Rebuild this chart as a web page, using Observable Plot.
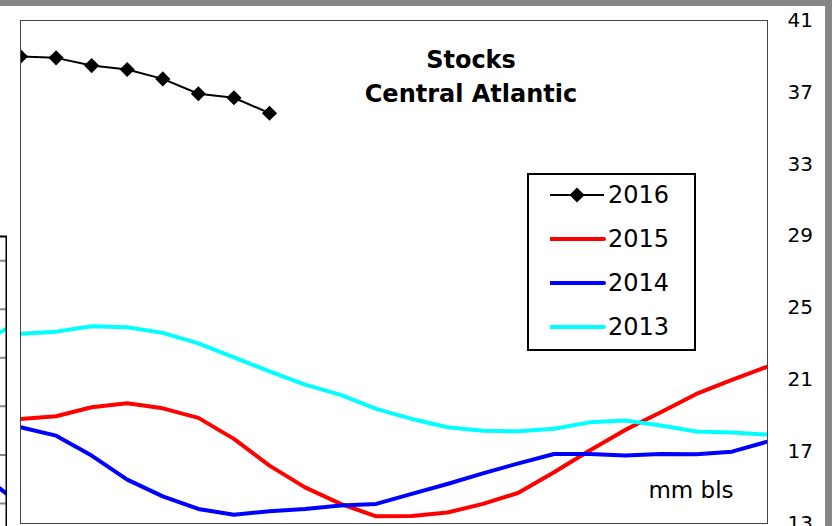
<!DOCTYPE html>
<html>
<head>
<meta charset="utf-8">
<script src="https://cdn.jsdelivr.net/npm/d3@7"></script>
<script src="https://cdn.jsdelivr.net/npm/@observablehq/plot@0.6"></script>
<style>
  body { margin: 0; background: #fff; }
  #wrap { position: relative; width: 832px; height: 526px; overflow: hidden; background: #fff; font-family: "DejaVu Sans", sans-serif; }
  #main { position: absolute; left: 0; top: 0; }
  #neighbor { position: absolute; left: 0; top: 0; width: 7px; height: 526px; overflow: hidden; }
  #neighbor > div { position: absolute; left: -93px; top: 0; }
  #legend { position: absolute; left: 527px; top: 173px; width: 169px; height: 178px; border: 2px solid #000; box-sizing: border-box; background: #fff; }
  .row { position: absolute; left: 0; height: 44px; width: 165px; }
  .row svg { position: absolute; left: 21px; top: 0; }
  .row span { position: absolute; left: 79px; top: 0; line-height: 44px; font-size: 24px; color: #000; }
  .band-top { position: absolute; left: 0; top: 0; width: 832px; height: 6px; background: #858585; }
  .band-right { position: absolute; left: 825px; top: 0; width: 7px; height: 526px; background: #858585; }
</style>
</head>
<body>
<div id="wrap">
  <div id="main"></div>
  <div id="neighbor"><div id="neighborPlot"></div></div>
  <div id="legend"></div>
  <div class="band-top"></div>
  <div class="band-right"></div>
</div>
<script>
// ---- Data ----
const titleLines = ["Stocks", "Central Atlantic"];
const unitLabel = "mm bls";
const yTicks = [13, 17, 21, 25, 29, 33, 37, 41];
const periods = [0,1,2,3,4,5,6,7,8,9,10,11,12,13,14,15,16,17,18,19,20,21];

const s2016 = [39.0, 38.92, 38.49, 38.27, 37.75, 36.92, 36.70, 35.84];
const s2015 = [18.82, 18.97, 19.47, 19.69, 19.41, 18.88, 17.71, 16.22, 15.01, 14.09, 13.40, 13.42, 13.61, 14.09, 14.71, 15.85, 17.06, 18.21, 19.19, 20.21, 20.99, 21.73];
const s2014 = [18.36, 17.89, 16.78, 15.44, 14.51, 13.81, 13.49, 13.68, 13.81, 14.00, 14.09, 14.65, 15.20, 15.79, 16.35, 16.87, 16.87, 16.78, 16.87, 16.85, 17.00, 17.56];
const s2013 = [23.56, 23.68, 23.98, 23.92, 23.61, 23.03, 22.25, 21.47, 20.73, 20.16, 19.38, 18.82, 18.36, 18.16, 18.13, 18.27, 18.63, 18.73, 18.45, 18.12, 18.06, 17.95];

const seriesNames = ["2016", "2015", "2014", "2013"];
const seriesColors = ["#000000", "#ff0000", "#0000ff", "#00ffff"];

// neighbouring chart sliver (partially visible at the left edge)
const neighborGrid = [5, 6, 7, 8, 9, 10];
const neighborX = [0.9, 1.0];
const neighborCyan = [8.48, 8.60];
const neighborBlue = [5.36, 5.20];

const toRows = (vals) => vals.map((v, i) => ({x: periods[i], y: v}));

const main = Plot.plot({
  width: 832,
  height: 526,
  marginLeft: 20,
  marginRight: 65,
  marginTop: 20,
  marginBottom: 3,
  style: {fontFamily: "DejaVu Sans, sans-serif", background: "white", color: "#000"},
  x: {domain: [0, 21], axis: null},
  y: {domain: [13, 41], axis: null},
  marks: [
    Plot.axisY({anchor: "right", ticks: yTicks, tickSize: 0, tickPadding: 20, fontSize: 20, textAnchor: "start", label: null, tickFormat: d => String(d)}),
    Plot.line(toRows(s2015), {x: "x", y: "y", stroke: seriesColors[1], strokeWidth: 4, clip: true}),
    Plot.line(toRows(s2014), {x: "x", y: "y", stroke: seriesColors[2], strokeWidth: 4, clip: true}),
    Plot.line(toRows(s2013), {x: "x", y: "y", stroke: seriesColors[3], strokeWidth: 4, clip: true}),
    Plot.line(toRows(s2016), {x: "x", y: "y", stroke: seriesColors[0], strokeWidth: 2, clip: true}),
    Plot.dot(toRows(s2016), {x: "x", y: "y", symbol: "diamond2", r: 6.8, fill: "#000", stroke: "none", clip: true}),
    Plot.frame({stroke: "#444", strokeWidth: 1}),
    Plot.text([titleLines.join("\n")], {frameAnchor: "top", lineAnchor: "top", dx: 77, dy: 23, fontSize: 24, fontWeight: "bold", lineHeight: 1.42, fill: "#000"}),
    Plot.text([unitLabel], {frameAnchor: "bottom-right", textAnchor: "end", lineAnchor: "middle", dx: -34, dy: -33, fontSize: 23, fill: "#000"})
  ]
});
document.getElementById("main").appendChild(main);

const neighbor = Plot.plot({
  width: 100,
  height: 600,
  marginLeft: 0,
  marginRight: 1,
  marginTop: 236,
  marginBottom: 0,
  style: {background: "white"},
  x: {domain: [0, 1], axis: null},
  y: {domain: [3, 10.5], axis: null},
  marks: [
    Plot.ruleY(neighborGrid, {stroke: "#888", strokeWidth: 2}),
    Plot.line(neighborX.map((x, i) => ({x, y: neighborCyan[i]})), {x: "x", y: "y", stroke: "#00ffff", strokeWidth: 4}),
    Plot.line(neighborX.map((x, i) => ({x, y: neighborBlue[i]})), {x: "x", y: "y", stroke: "#0000ff", strokeWidth: 4}),
    Plot.frame({stroke: "#000", strokeWidth: 2})
  ]
});
document.getElementById("neighborPlot").appendChild(neighbor);

// Legend
const legend = document.getElementById("legend");
seriesNames.forEach((name, i) => {
  const row = document.createElement("div");
  row.className = "row";
  row.style.top = (-2 + i * 44.1) + "px";
  const ns = "http://www.w3.org/2000/svg";
  const svg = document.createElementNS(ns, "svg");
  svg.setAttribute("width", 56);
  svg.setAttribute("height", 44);
  const line = document.createElementNS(ns, "line");
  line.setAttribute("x1", 0); line.setAttribute("x2", 54);
  line.setAttribute("y1", 22); line.setAttribute("y2", 22);
  line.setAttribute("stroke", seriesColors[i]);
  line.setAttribute("stroke-width", i === 0 ? 2 : 4);
  line.setAttribute("stroke-linecap", i === 0 ? "butt" : "round");
  svg.appendChild(line);
  if (i === 0) {
    const p = document.createElementNS(ns, "path");
    p.setAttribute("d", "M27,14.5L34.5,22L27,29.5L19.5,22Z");
    p.setAttribute("fill", "#000");
    svg.appendChild(p);
  }
  row.appendChild(svg);
  const span = document.createElement("span");
  span.textContent = name;
  row.appendChild(span);
  legend.appendChild(row);
});
</script>
</body>
</html>
